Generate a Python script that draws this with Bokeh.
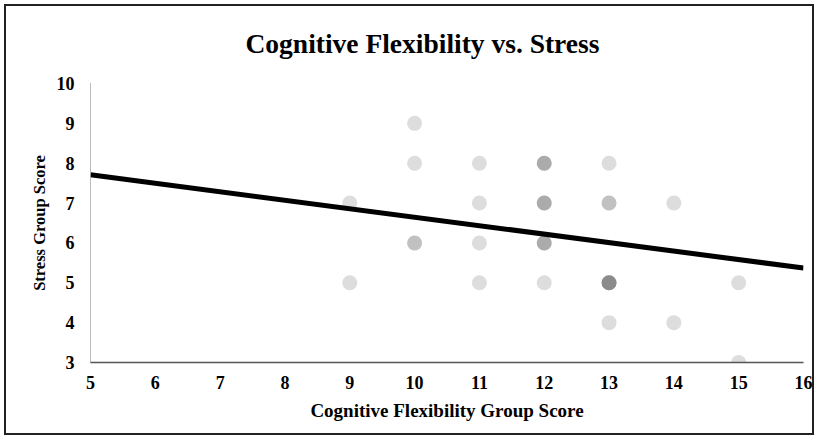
from bokeh.plotting import figure
from bokeh.models import Range1d, FixedTicker
from bokeh.embed import file_html
from bokeh.resources import INLINE

# Data
cog_x = [9, 9, 10, 10, 10, 10, 11, 11, 11, 11,
         12, 12, 12, 12, 12, 12, 12, 12, 12, 12,
         13, 13, 13, 13, 13, 13, 13, 13, 13,
         14, 14, 15, 15]
stress_y = [7, 5, 9, 8, 6, 6, 8, 7, 6, 5,
            8, 8, 8, 7, 7, 7, 6, 6, 6, 5,
            8, 7, 7, 5, 5, 5, 5, 5, 4,
            7, 4, 5, 3]
trend_x = [5, 16]
trend_y = [7.71, 5.37]
x_ticks = [5, 6, 7, 8, 9, 10, 11, 12, 13, 14, 15, 16]
y_ticks = [3, 4, 5, 6, 7, 8, 9, 10]

FONT = "Liberation Serif"

p = figure(width=818, height=439, output_backend="svg", toolbar_location=None,
           x_range=Range1d(5, 16), y_range=Range1d(3, 10),
           min_border_left=90, min_border_right=15, min_border_top=81, min_border_bottom=77,
           title="Cognitive Flexibility vs. Stress")
p.border_fill_alpha = 0
p.background_fill_alpha = 0
p.styles = {"outline": "2px solid #222", "outline-offset": "-6px"}

p.title.align = "left"
p.title.text_font = FONT
p.title.text_font_size = "27.5px"
p.title.text_font_style = "bold"
p.title.text_color = "#000000"
p.title.offset = 155
p.title.standoff = 50
p.title.text_line_height = 0.7

p.outline_line_color = None
p.grid.visible = False

p.xaxis.ticker = FixedTicker(ticks=x_ticks)
p.yaxis.ticker = FixedTicker(ticks=y_ticks)
for ax in (p.xaxis[0], p.yaxis[0]):
    ax.major_tick_line_color = None
    ax.minor_tick_line_color = None
    ax.major_label_text_font = FONT
    ax.major_label_text_font_size = "18px"
    ax.major_label_text_font_style = "bold"
    ax.major_label_text_color = "#000000"
    ax.axis_label_text_font = FONT
    ax.axis_label_text_font_style = "bold"
    ax.axis_label_text_color = "#000000"

p.xaxis.axis_label = "Cognitive Flexibility Group Score"
p.yaxis.axis_label = "Stress Group Score"
p.xaxis.axis_label_text_font_size = "19px"
p.yaxis.axis_label_text_font_size = "16.5px"
p.xaxis.axis_line_color = "#555555"
p.xaxis.axis_line_width = 1.5
p.yaxis.axis_line_color = "#777777"
p.yaxis.axis_line_dash = "1 1"
p.xaxis.major_label_standoff = 7
p.yaxis.major_label_standoff = 10
p.xaxis.axis_label_standoff = 8
p.yaxis.axis_label_standoff = 5

p.scatter(cog_x, stress_y, size=15, fill_color="#555555", fill_alpha=0.2,
          line_color=None)
p.line(trend_x, trend_y, line_color="#000000", line_width=5)

open("out.html", "w").write(file_html(p, INLINE))
